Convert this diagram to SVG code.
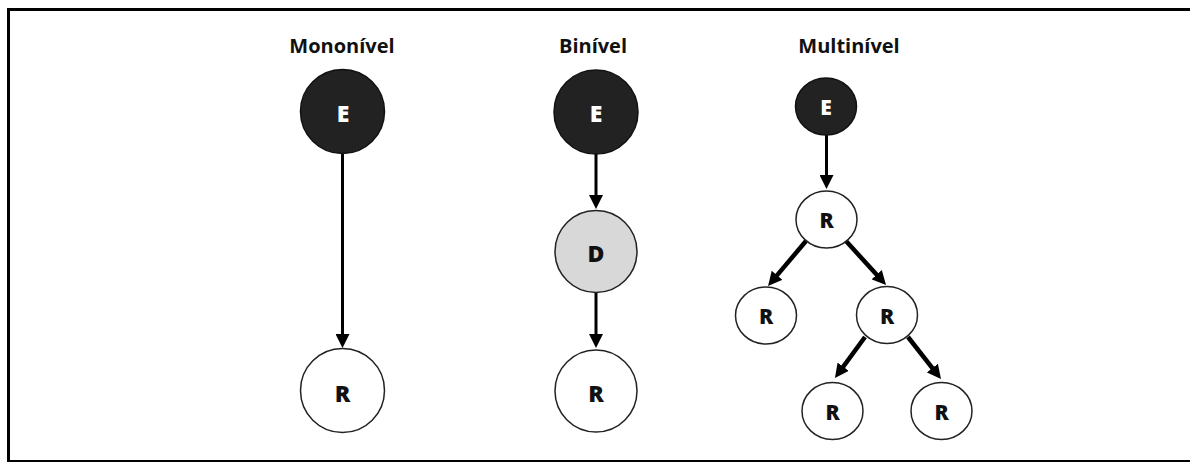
<svg xmlns="http://www.w3.org/2000/svg" width="1190" height="462" viewBox="0 0 1190 462">
  <style>
    .title { font-family: "Open Sans", "DejaVu Sans", sans-serif; font-weight: bold; font-size: 20px; fill: #111; text-anchor: middle; }
    .lbl { font-family: "Open Sans", "DejaVu Sans", sans-serif; font-weight: 800; font-size: 21px; text-anchor: middle; }
    .lbl.big { font-size: 23px; }
    .dark { fill: #222; stroke: #111; stroke-width: 1.5; }
    .mid { fill: #d8d8d8; stroke: #222; stroke-width: 1.5; }
    .light { fill: #fff; stroke: #222; stroke-width: 1.5; }
    .on-dark { fill: #fff; }
    .on-light { fill: #111; }
    .edge { stroke: #000; stroke-width: 3; fill: none; marker-end: url(#head); }
    .edge.wide { stroke-width: 4.5; }
    .frame { stroke: #000; fill: none; }
  </style>
  <defs>
    <marker id="head" markerUnits="userSpaceOnUse" markerWidth="14" markerHeight="14" viewBox="0 0 14 14" refX="8" refY="7" orient="auto">
      <path d="M0,0 L14,7 L0,14 z" fill="#000"/>
    </marker>
  </defs>

  <rect width="1190" height="462" fill="#fff"/>

  <!-- frame: top, left and bottom rules -->
  <g id="frame">
    <line class="frame" x1="7" y1="9.5" x2="1190" y2="9.5" stroke-width="3"/>
    <line class="frame" x1="8.5" y1="8" x2="8.5" y2="462" stroke-width="3"/>
    <line class="frame" x1="7" y1="461" x2="1190" y2="461" stroke-width="2"/>
  </g>

  <!-- column titles -->
  <g id="titles">
    <text class="title" x="342" y="53">Mononível</text>
    <text class="title" x="593" y="53">Binível</text>
    <text class="title" x="849" y="53">Multinível</text>
  </g>

  <!-- connectors -->
  <g id="connectors">
    <line class="edge" x1="342.5" y1="153" x2="342.5" y2="342"/>
    <line class="edge" x1="596" y1="153" x2="596" y2="203"/>
    <line class="edge" x1="596" y1="292" x2="596" y2="342"/>
    <line class="edge" x1="826.5" y1="135" x2="826.5" y2="183"/>
    <line class="edge wide" x1="806" y1="241" x2="771.9" y2="281.4"/>
    <line class="edge wide" x1="846" y1="241" x2="882" y2="280.6"/>
    <line class="edge wide" x1="865" y1="337" x2="838.5" y2="373.2"/>
    <line class="edge wide" x1="908" y1="337" x2="937.3" y2="374.3"/>
  </g>

  <!-- single level -->
  <g id="mono-e">
    <circle class="dark" cx="342.5" cy="111.5" r="42"/>
    <text class="lbl big on-dark" x="343" y="122">E</text>
  </g>
  <g id="mono-r">
    <circle class="light" cx="342.5" cy="390.5" r="42"/>
    <text class="lbl big on-light" x="342.5" y="401.5">R</text>
  </g>

  <!-- two levels -->
  <g id="bi-e">
    <circle class="dark" cx="596" cy="112" r="42"/>
    <text class="lbl big on-dark" x="596" y="122">E</text>
  </g>
  <g id="bi-d">
    <circle class="mid" cx="596" cy="251.5" r="41"/>
    <text class="lbl big on-light" x="596" y="262">D</text>
  </g>
  <g id="bi-r">
    <circle class="light" cx="596" cy="391" r="41"/>
    <text class="lbl big on-light" x="596" y="401.5">R</text>
  </g>

  <!-- multiple levels -->
  <g id="multi-e">
    <ellipse class="dark" cx="826" cy="106.5" rx="30.5" ry="28.5"/>
    <text class="lbl on-dark" x="826" y="115">E</text>
  </g>
  <g id="multi-r1">
    <ellipse class="light" cx="826.5" cy="219.5" rx="30.5" ry="28.5"/>
    <text class="lbl on-light" x="826.5" y="228">R</text>
  </g>
  <g id="multi-r2">
    <ellipse class="light" cx="766" cy="315.5" rx="30.5" ry="28.5"/>
    <text class="lbl on-light" x="766" y="324">R</text>
  </g>
  <g id="multi-r3">
    <ellipse class="light" cx="887" cy="315" rx="30.5" ry="28.5"/>
    <text class="lbl on-light" x="887" y="324">R</text>
  </g>
  <g id="multi-r4">
    <ellipse class="light" cx="832.5" cy="411" rx="30.5" ry="28.5"/>
    <text class="lbl on-light" x="832.5" y="420">R</text>
  </g>
  <g id="multi-r5">
    <ellipse class="light" cx="941.5" cy="411" rx="30.5" ry="28.5"/>
    <text class="lbl on-light" x="941.5" y="420">R</text>
  </g>
</svg>
